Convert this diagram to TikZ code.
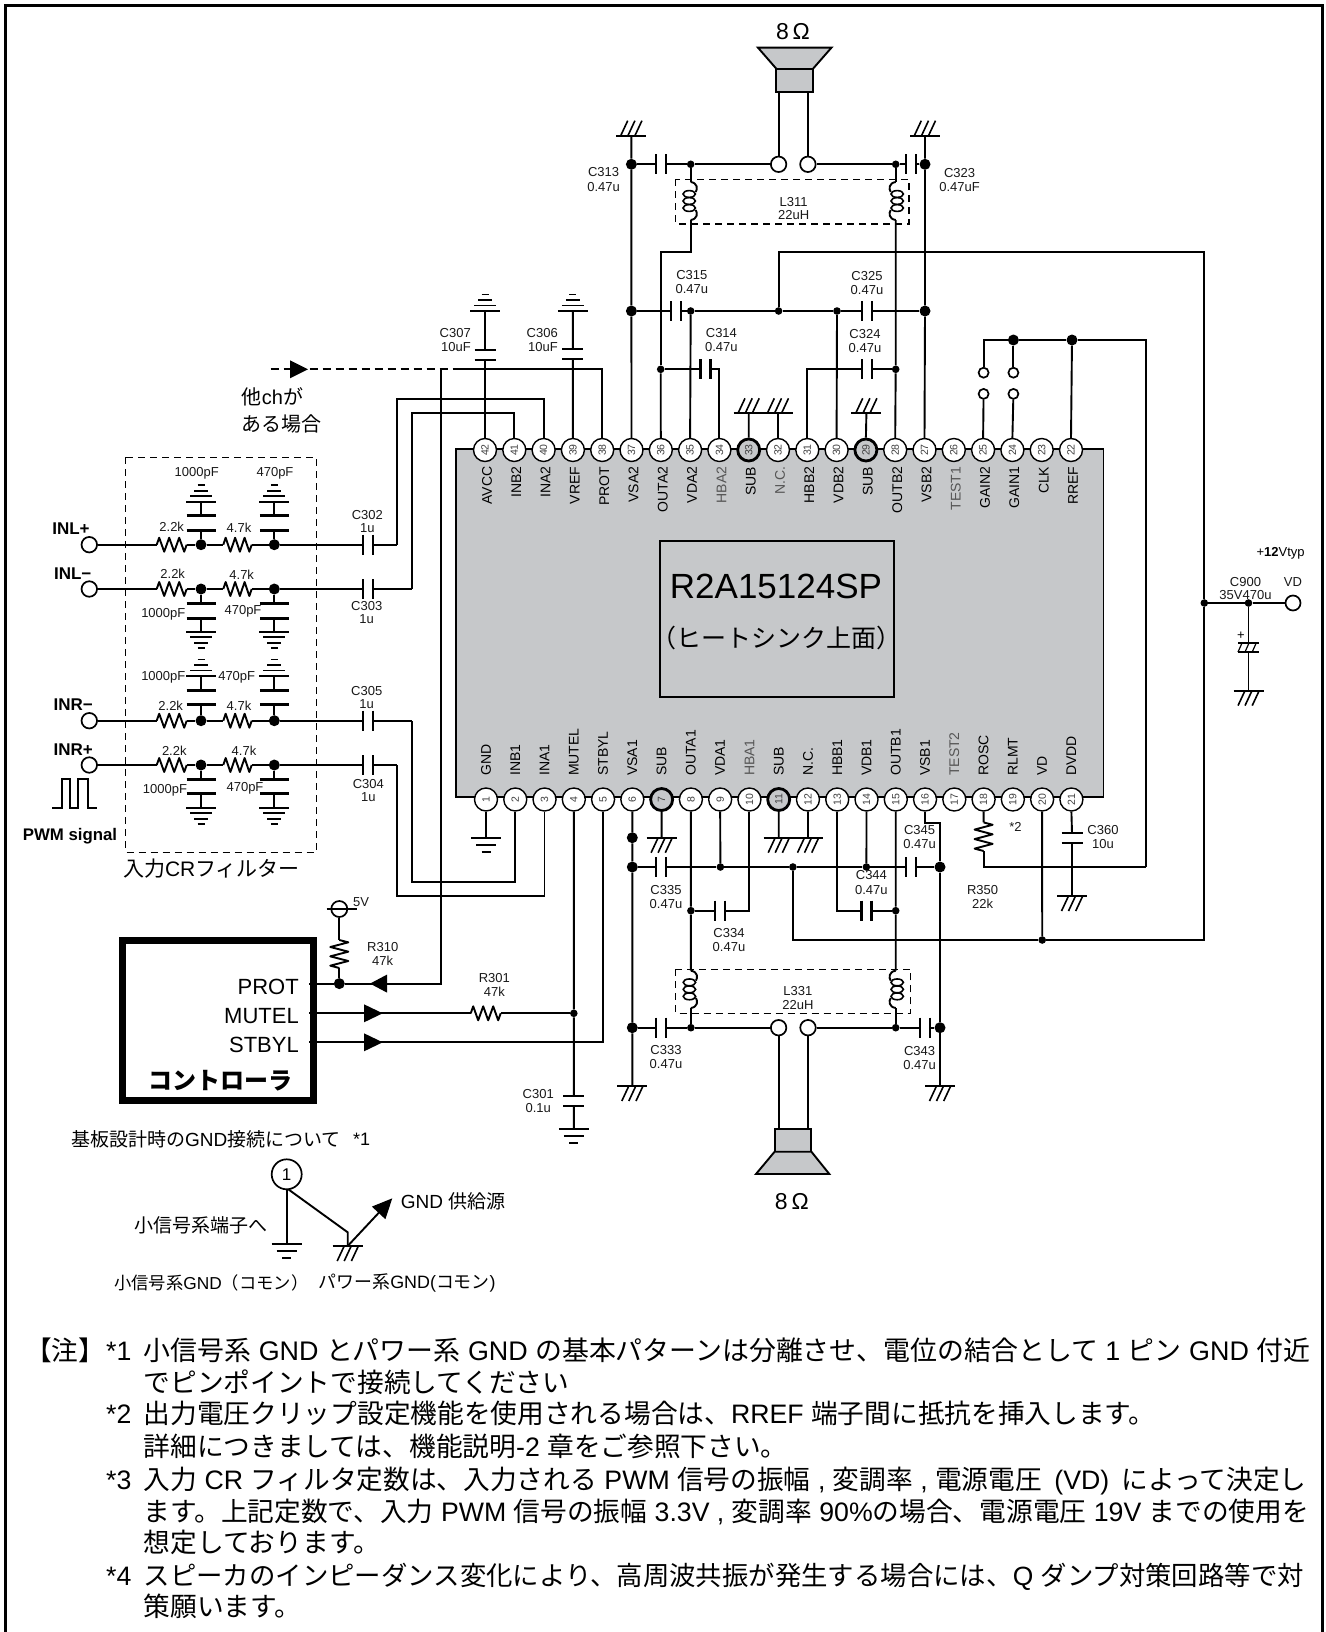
\documentclass[tikz,border=0pt]{standalone}
\usepackage{fontspec}
\usetikzlibrary{arrows.meta}
\setmainfont{Liberation Sans}
\newfontfamily\jp{Noto Sans CJK JP}
\newcommand\J[1]{{\jp #1}}
\newcommand\fs[1]{\fontsize{#1}{#1}\selectfont}
\definecolor{pkg}{HTML}{C6C8CA}
\definecolor{dimtxt}{HTML}{555555}
\newcount\lblc
\tikzset{
 wire/.style={line width=1.9pt,line join=miter},
 thinw/.style={line width=1.6pt},
 plate/.style={line width=2.2pt},
 platef/.style={line width=3pt},
 dashbox/.style={line width=1.5pt,dash pattern=on 7pt off 5pt},
 pin/.style={circle,draw,fill=white,line width=1.4pt,minimum size=23pt,inner sep=0pt,text=black!75,font=\fs{10.5}},
 pinS/.style={pin,fill=pkg,line width=2.8pt,minimum size=22pt},
 term/.style={circle,draw,fill=white,line width=1.7pt,minimum size=15.5pt,inner sep=0pt},
 gapterm/.style={circle,draw,fill=white,line width=1.7pt,minimum size=10pt,inner sep=0pt},
 dotL/.style={circle,fill=black,minimum size=11pt,inner sep=0pt},
 dotS/.style={circle,fill=black,minimum size=7.6pt,inner sep=0pt},
 lbl/.style={inner sep=0pt,align=center,font=\fs{13},text=black!90},
 note/.style={inner sep=0pt,anchor=base west,font=\fs{26.7}},
 ctl/.style={inner sep=0pt,anchor=east,font=\fs{22}},
}
\newcommand\Lb[3]{\global\advance\lblc by 1 \node[lbl] (l\the\lblc) at (#1,#2) {#3};}
\newcommand\Tx[4][]{\global\advance\lblc by 1 \node[inner sep=0pt,#1] (l\the\lblc) at (#2,#3) {#4};}
\newcommand\Nt[3]{\global\advance\lblc by 1 \node[note] (l\the\lblc) at (#1,#2) {#3};}
\newcommand\Dl[3]{\node[dotL] (#1) at (#2,#3) {};}
\newcommand\Ds[3]{\node[dotS] (#1) at (#2,#3) {};}
\newcommand\capH[3]{\coordinate (#1a) at ({#2-5},#3);\coordinate (#1b) at ({#2+5},#3);
 \draw[plate] ({#2-5},{#3-10})--({#2-5},{#3+10});\draw[plate] ({#2+5},{#3-10})--({#2+5},{#3+10});}
\newcommand\capV[3]{\coordinate (#1a) at (#2,{#3-5});\coordinate (#1b) at (#2,{#3+5});
 \draw[plate] ({#2-10.5},{#3-5})--({#2+10.5},{#3-5});\draw[plate] ({#2-10.5},{#3+5})--({#2+10.5},{#3+5});}
\newcommand\capF[3]{\coordinate (#1a) at (#2,{#3-7.3});\coordinate (#1b) at (#2,{#3+7.3});
 \draw[platef] ({#2-14.5},{#3-7.3})--({#2+14.5},{#3-7.3});\draw[platef] ({#2-14.5},{#3+7.3})--({#2+14.5},{#3+7.3});}
\newcommand\sgnd[4]{\coordinate (#1) at (#2,#3);
 \draw[wire] ({#2-15},#3)--({#2+15},#3);
 \draw[wire] ({#2-10},{#3+7*#4})--({#2+10},{#3+7*#4});
 \draw[wire] ({#2-4.5},{#3+14*#4})--({#2+4.5},{#3+14*#4});}
\newcommand\sgndf[4]{\coordinate (#1) at (#2,#3);
 \draw[thinw] ({#2-15},#3)--({#2+15},#3);
 \draw[thinw] ({#2-11},{#3+5.5*#4})--({#2+11},{#3+5.5*#4});
 \draw[thinw] ({#2-7},{#3+11*#4})--({#2+7},{#3+11*#4});
 \draw[thinw] ({#2-3.5},{#3+16.5*#4})--({#2+3.5},{#3+16.5*#4});}
\newcommand\pgndD[3]{\coordinate (#1) at (#2,#3);
 \draw[wire] ({#2-15},#3)--({#2+15},#3);
 \foreach \o in {-3.5,3.5,10.7}{\draw[thinw] ({#2+\o},#3)--({#2+\o-7},{#3+15});}}
\newcommand\pgndU[3]{\coordinate (#1) at (#2,#3);
 \draw[wire] ({#2-15},#3)--({#2+15},#3);
 \foreach \o in {-10.7,-3.5,3.5}{\draw[thinw] ({#2+\o},#3)--({#2+\o+7},{#3-15});}}
\newcommand\resH[4]{\coordinate (#1a) at (#2,#4);\coordinate (#1b) at (#3,#4);
 \draw[wire,line join=round] (#2,#4)--({#2+(#3-#2)/12},{#4-7})--({#2+(#3-#2)*3/12},{#4+7})--({#2+(#3-#2)*5/12},{#4-7})--({#2+(#3-#2)*7/12},{#4+7})--({#2+(#3-#2)*9/12},{#4-7})--({#2+(#3-#2)*11/12},{#4+7})--(#3,#4);}
\newcommand\resV[4]{\coordinate (#1a) at (#2,#3);\coordinate (#1b) at (#2,#4);
 \draw[wire,line join=round] (#2,#3)--({#2+9},{#3+(#4-#3)/12})--({#2-9},{#3+(#4-#3)*3/12})--({#2+9},{#3+(#4-#3)*5/12})--({#2-9},{#3+(#4-#3)*7/12})--({#2+9},{#3+(#4-#3)*9/12})--({#2-9},{#3+(#4-#3)*11/12})--(#2,#4);}
\newcommand\coil[5]{\coordinate (#1a) at (#2,#3);\coordinate (#1b) at (#2,#4);
 \pgfmathsetmacro\ym{(#3+#4)/2}
 \foreach \d in {-7,0,7}{\draw[thinw] ({#2-1.5*#5},{\ym+\d}) ellipse [x radius=6.2,y radius=3.4];}
 \draw[wire] (#2,#3) .. controls ({#2+7*#5},{#3+1}) and ({#2+7*#5},{#3+7}) .. ({#2+5*#5},{#3+10});
 \draw[wire] (#2,#4) .. controls ({#2+7*#5},{#4-1}) and ({#2+7*#5},{#4-7}) .. ({#2+5*#5},{#4-10});}
\newcommand\tri[4]{\fill (#1,#3)--(#2,#4)--(#1,{2*#4-#3})--cycle;}
\newcommand\topx[1]{\pgfmathsetmacro\xx{485+(42-#1)*29.3}}
\newcommand\botx[1]{\pgfmathsetmacro\xx{486+(#1-1)*29.27}}
\begin{document}
\begin{tikzpicture}[x=1pt,y=-1pt]
\useasboundingbox (0,0) rectangle (1325,1632);
\fill[white] (0,0) rectangle (1325,1632);
\draw[line width=3pt] (5.5,1632)--(5.5,6)--(1322,6)--(1322,1632);
% package
\draw[fill=pkg,line width=1.4pt] (456,449) rectangle (1103.5,797);
\draw[line width=1.4pt] (660,541) rectangle (894,697);
\Tx{776}{586}{\fs{35}R2A15124SP}
\Tx{776}{638}{\fs{25}\J{（ヒートシンク上面）}}
% pins
\foreach \n in {22,...,28,30,31,32,34,35,...,42}{\topx{\n}\node[pin] (p\n) at (\xx,450) {\rotatebox{90}{\n}};}
\foreach \n in {29,33}{\topx{\n}\node[pinS] (p\n) at (\xx,450) {\rotatebox{90}{\n}};}
\foreach \n in {1,...,6,8,9,10,12,13,...,21}{\botx{\n}\node[pin] (p\n) at (\xx,799.5) {\rotatebox{90}{\n}};}
\foreach \n in {7,11}{\botx{\n}\node[pinS] (p\n) at (\xx,799.5) {\rotatebox{90}{\n}};}
\foreach \n/\t in {42/AVCC,41/INB2,40/INA2,39/VREF,38/PROT,37/VSA2,36/OUTA2,35/VDA2,33/SUB,31/HBB2,30/VDB2,29/SUB,28/OUTB2,27/VSB2,25/GAIN2,24/GAIN1,23/CLK,22/RREF}{
 \topx{\n}\node[inner sep=0pt,rotate=90,anchor=east,font=\fs{14}] (t\n) at (\xx+2,466.5) {\t};}
\foreach \n/\t in {34/HBA2,32/N.C.,26/TEST1}{
 \topx{\n}\node[inner sep=0pt,rotate=90,anchor=east,font=\fs{14},text=dimtxt] (t\n) at (\xx+2,466.5) {\t};}
\foreach \n/\t in {1/GND,2/INB1,3/INA1,4/MUTEL,5/STBYL,6/VSA1,7/SUB,8/OUTA1,9/VDA1,11/SUB,12/N.C.,13/HBB1,14/VDB1,15/OUTB1,16/VSB1,18/ROSC,19/RLMT,20/VD,21/DVDD}{
 \botx{\n}\node[inner sep=0pt,rotate=90,anchor=west,font=\fs{14}] (t\n) at (\xx,776) {\t};}
\foreach \n/\t in {10/HBA1,17/TEST2}{
 \botx{\n}\node[inner sep=0pt,rotate=90,anchor=west,font=\fs{14},text=dimtxt] (t\n) at (\xx,776) {\t};}

% ---- top speaker
\draw[fill=pkg,line width=1.9pt] (758,47.7)--(831.4,47.7)--(812.5,69.3)--(776.8,69.3)--cycle;
\node[draw,fill=pkg,line width=1.9pt,minimum width=37pt,minimum height=22.4pt,inner sep=0pt] (spkT) at (794.4,80.5) {};
\Tx{793}{32}{\fs{23}8\,Ω}
\node[term] (tL) at (778.6,164.3) {};
\node[term] (tR) at (807.9,164.3) {};
\draw[wire] (tL.north)--(tL.north|-spkT.south);
\draw[wire] (tR.north)--(tR.north|-spkT.south);
\pgndU{gT37}{631.4}{135.7}
\pgndU{gT27}{925}{135.7}
\Dl{j1}{631.4}{164.3}\Dl{j2}{925}{164.3}
\Ds{j3}{690.7}{164.3}\Ds{j4}{895.7}{164.3}
\capH{c313}{661}{164.3}\capH{c323}{910.7}{164.3}
\draw[wire] (j1)--(c313a) (c313b)--(j3)--(tL);
\draw[wire] (tR)--(j4)--(c323a) (c323b)--(j2);
\coil{l1}{690.7}{182}{220}{1}\coil{l2}{895.7}{182}{220}{-1}
\draw[wire] (j3)--(l1a);\draw[wire] (j4)--(l2a);
\draw[dashbox] (675.7,179.3) rectangle (909,224);
\Lb{793.6}{202}{L311}\Lb{793.6}{215.5}{22uH}
\Lb{603.6}{172.3}{C313}\Lb{603.6}{187}{0.47u}
\Lb{959.6}{172.8}{C323}\Lb{959.6}{187}{0.47uF}
% row y=311
\Dl{j5}{631.4}{311}\Dl{j6}{925}{311}
\Ds{j7}{690.7}{311}\Ds{j8}{778.6}{311}\Ds{j9}{837}{311}
\capH{c315}{675.7}{311}\capH{c325}{867}{311}
\draw[wire] (j5)--(c315a) (c315b)--(j7)--(j8)--(j9)--(c325a) (c325b)--(j6);
\draw[wire] (gT37)--(j1)--(j5)--(p37.north);
\draw[wire] (gT27)--(j2)--(j6)--(p27.north);
\draw[wire] (j7)--(p35.north);
\draw[wire] (j9)--(p30.north);
% OUTA2 / C314
\Ds{j10}{660.7}{369.3}\Ds{j11}{895.7}{369.3}
\draw[wire] (l1b)--(690.7,252.3)-|(j10);\draw[wire] (j10)--(p36.north);
\draw[wire] (l2b)--(j11)--(p28.north);
\capH{c314}{705.4}{369.3}\capH{c324}{867}{369.3}
\draw[wire] (j10)--(c314a);\draw[wire] (c314b)-|(p34.north);
\draw[wire] (p31.north)|-(c324a);\draw[wire] (c324b)--(j11);
\Lb{691.8}{275.3}{C315}\Lb{691.8}{289.5}{0.47u}
\Lb{867}{276}{C325}\Lb{867}{290}{0.47u}
\Lb{721.4}{333.3}{C314}\Lb{721.4}{347.5}{0.47u}
\Lb{865}{334}{C324}\Lb{865}{348}{0.47u}
% SUB grounds top
\pgndU{g33}{748.7}{413.3}\pgndU{g32}{778}{413.3}\pgndU{g29}{866.4}{413.3}
\draw[wire] (g33)--(p33.north);\draw[wire] (g32)--(p32.north);\draw[wire] (g29)--(p29.north);
% VD rail
\coordinate (rA) at (1204.3,252.3);\coordinate (rB) at (1204.3,940);\coordinate (rC) at (792.9,940);
\Ds{j12}{1204.3}{603}\Ds{j13}{1042.2}{940}\Ds{j14}{792.9}{867}
\draw[wire] (j8)|-(rA)--(j12)--(rB)--(j13)--(rC)--(j14);
\draw[wire] (j13)--(p20.south);
% C900
\Ds{j15}{1248.5}{603}
\node[term,minimum size=15pt] (tVD) at (1293,603) {};
\draw[wire] (j12)--(j15)--(tVD);
\coordinate (c900a) at (1248.5,643);\coordinate (c900b) at (1248.5,652);
\draw[plate] (1238,643)--(1259,643);\draw[plate] (1238,652)--(1259,652);
\foreach \o in {-3.5,3.5,10.7}{\draw[line width=1.2pt] ({1248.5+\o-3},643)--({1248.5+\o-7},652);}
\pgndD{g900}{1248.5}{690.6}
\draw[wire] (j15)--(c900a);\draw[wire] (c900b)--(g900);
\Tx[font=\fs{13}]{1241}{636}{+}
\Tx{1280.6}{553}{\fs{13}+\textbf{12}Vtyp}
\Lb{1245.5}{581.6}{C900}\Lb{1245.5}{595.5}{35V470u}\Lb{1293}{581.6}{VD}
% C307,C306 and grounds
\sgndf{g307}{485}{311}{-1}\sgndf{g306}{572.9}{311}{-1}
\capV{c307}{485}{355}\capV{c306}{572.9}{354}
\draw[wire] (g307)--(c307a) (c307b)--(p42.north);
\draw[wire] (g306)--(c306a) (c306b)--(p39.north);
\node[lbl,anchor=east,align=right] (l307) at (471,340) {C307\\[1.5pt]10uF};
\node[lbl,anchor=east,align=right] (l306) at (558,340) {C306\\[1.5pt]10uF};
% PROT net
\coordinate (a0) at (270.7,369.3);\coordinate (a1) at (441,369.3);\coordinate (a2) at (456.7,369.3);
\draw[wire,dash pattern=on 8pt off 5pt] (a0)--(a2);
\draw[wire] (a2)-|(p38.north);
\tri{290}{308}{360.3}{369.3}
\Tx[align=left,anchor=west,font=\fs{20}]{241.7}{410.5}{\J{他}ch\J{が}\\[7pt]\J{ある場合}}
\draw[wire] (p41.north)|-(412.3,413.3)--(412.3,589);
\draw[wire] (p40.north)|-(397.3,398.7)--(397.3,544.7);
\draw[wire] (p2.south)|-(412.3,881.7)--(412.3,720.7);
\draw[wire] (p3.south)|-(397.3,896)--(397.3,765);
% input filter
\draw[dashbox] (125.7,457.3) rectangle (316.3,852.3);
\Tx[font=\fs{21}]{211.5}{869}{\J{入力}CR\J{フィルター}}
\foreach \r/\yy/\nm/\lx/\wend in {A/544.7/INL+/71/397.3,B/589/INL−/72.7/412.3,C/720.7/INR−/73.3/412.3,D/765/INR+/73.3/397.3}{
 \node[term] (in\r) at (89.3,\yy) {};
 \node[inner sep=0pt,font=\bfseries\fs{17}] (nm\r) at (\lx,{\yy-15.7}) {\nm};
 \resH{ra\r}{156.7}{186.7}{\yy}\resH{rb\r}{223.3}{251.7}{\yy}
 \Dl{da\r}{201}{\yy}\Dl{db\r}{274.3}{\yy}
 \capH{cs\r}{368.3}{\yy}
 \draw[wire] (in\r)--(ra\r a) (ra\r b)--(da\r)--(rb\r a) (rb\r b)--(db\r)--(cs\r a) (cs\r b)--(\wend,\yy);
}
% filter caps: up on rows A,C; down on rows B,D
\capF{f1}{201}{523}\capF{f2}{274.3}{523}\sgndf{gf1}{201}{501.7}{-1}\sgndf{gf2}{274.3}{501.7}{-1}
\draw[wire] (daA)--(f1b) (f1a)--(gf1);\draw[wire] (dbA)--(f2b) (f2a)--(gf2);
\capF{f3}{201}{610.8}\capF{f4}{274.3}{610.8}\sgndf{gf3}{201}{631.7}{1}\sgndf{gf4}{274.3}{631.7}{1}
\draw[wire] (daB)--(f3a) (f3b)--(gf3);\draw[wire] (dbB)--(f4a) (f4b)--(gf4);
\capF{f5}{201}{697.5}\capF{f6}{274.3}{697.5}\sgndf{gf5}{201}{676}{-1}\sgndf{gf6}{274.3}{676}{-1}
\draw[wire] (daC)--(f5b) (f5a)--(gf5);\draw[wire] (dbC)--(f6b) (f6a)--(gf6);
\capF{f7}{201}{786.3}\capF{f8}{274.3}{786.3}\sgndf{gf7}{201}{807.7}{1}\sgndf{gf8}{274.3}{807.7}{1}
\draw[wire] (daD)--(f7a) (f7b)--(gf7);\draw[wire] (dbD)--(f8a) (f8b)--(gf8);
\Lb{196.7}{473}{1000pF}\Lb{275}{473}{470pF}
\Lb{171.7}{526.7}{2.2k}\Lb{239}{527.3}{4.7k}
\Lb{172.7}{573.3}{2.2k}\Lb{241.7}{575}{4.7k}
\Lb{163.3}{614}{1000pF}\Lb{243}{611.7}{470pF}
\Lb{163.3}{677.7}{1000pF}\Lb{236.7}{677.7}{470pF}
\Lb{170.7}{705.7}{2.2k}\Lb{239}{706}{4.7k}
\Lb{174.3}{750.7}{2.2k}\Lb{244}{750.7}{4.7k}
\Lb{165}{790}{1000pF}\Lb{245}{788.3}{470pF}
\Lb{367.3}{515}{C302}\Lb{367.3}{527.7}{1u}
\Lb{366.7}{606}{C303}\Lb{366.7}{619.3}{1u}
\Lb{366.7}{691}{C305}\Lb{366.7}{703.7}{1u}
\Lb{368.3}{784}{C304}\Lb{368.3}{796.7}{1u}
\draw[wire] (52.3,808.3)--(61.7,808.3)--(61.7,779)--(70,779)--(70,808.3)--(78.3,808.3)--(78.3,779)--(87.7,779)--(87.7,808.3)--(96.7,808.3);
\Tx[font=\bfseries\fs{16.8}]{70}{835.7}{PWM signal}
% bottom pins
\sgnd{g1}{486}{837.7}{1}\draw[wire] (p1.south)--(g1);
\pgndD{g7}{661.6}{837.7}\pgndD{g11}{778.7}{837.7}\pgndD{g12}{808}{837.7}
\draw[wire] (p7.south)--(g7);\draw[wire] (p11.south)--(g11);\draw[wire] (p12.south)--(g12);
% MUTEL, C301
\Ds{j20}{573.8}{1013.3}
\capV{c301}{573.8}{1101}\sgnd{g301}{573.8}{1129.3}{1}
\draw[wire] (p4.south)--(j20)--(c301a) (c301b)--(g301);
\Lb{538.2}{1094}{C301}\Lb{538.2}{1108}{0.1u}
% bottom power rails
\pgndD{g6}{632.3}{1086}\pgndD{g16}{940}{1086}
\Dl{b1}{632.3}{837.7}\Dl{b2}{632.3}{867}\Dl{b3}{632.3}{1027.7}
\Dl{b4}{940}{867}\Dl{b5}{940}{1027.7}
\draw[wire] (p6.south)--(b1)--(b2)--(b3)--(g6);
\coordinate (q16) at (940,822.7);
\draw[wire] (p16.south)|-(q16)--(b4)--(b5)--(g16);
\Ds{b6}{690.9}{910.7}\Ds{b7}{690.9}{1027.7}\Ds{b8}{720.4}{867}\Ds{b9}{866.4}{867}\Ds{b10}{895.7}{910.7}\Ds{b11}{895.7}{1027.7}
\capH{c335}{661}{867}\capH{c345}{910.7}{867}\capH{c333}{661}{1027.7}\capH{c343}{925}{1027.7}
\capH{c334}{719.8}{910.7}\capH{c344}{866.4}{910.7}
\draw[wire] (b2)--(c335a) (c335b)--(b8)--(j14)--(b9)--(c345a) (c345b)--(b4);
\draw[wire] (b3)--(c333a) (c333b)--(b7);
\draw[wire] (b11)--(c343a) (c343b)--(b5);
\draw[wire] (p9.south)--(b8);\draw[wire] (p14.south)--(b9);
\draw[wire] (b6)--(c334a);\draw[wire] (c334b)-|(p10.south);
\draw[wire] (p13.south)|-(c344a);\draw[wire] (c344b)--(b10);
\coil{l3}{690.9}{970.7}{1008}{1}\coil{l4}{895.7}{970.7}{1008}{-1}
\draw[wire] (p8.south)--(b6)--(l3a);\draw[wire] (l3b)--(b7);
\draw[wire] (p15.south)--(b10)--(l4a);\draw[wire] (l4b)--(b11);
\draw[dashbox] (675.7,969.3) rectangle (910.7,1013.3);
\Lb{797.9}{991}{L331}\Lb{797.9}{1005.3}{22uH}
\node[term] (bL) at (778.6,1027.7) {};\node[term] (bR) at (808,1027.7) {};
\draw[wire] (b7)--(bL);\draw[wire] (bR)--(b11);
\node[draw,fill=pkg,line width=1.9pt,minimum width=36.8pt,minimum height=22.4pt,inner sep=0pt] (spkB) at (793,1140.5) {};
\draw[fill=pkg,line width=1.9pt] (774.6,1151.7)--(811.4,1151.7)--(829.3,1174)--(756,1174)--cycle;
\draw[wire] (bL.south)--(bL.south|-spkB.north);\draw[wire] (bR.south)--(bR.south|-spkB.north);
\Tx{791.8}{1201.7}{\fs{23}8\,Ω}
\Lb{666}{890}{C335}\Lb{666}{904}{0.47u}
\Lb{729}{933.3}{C334}\Lb{729}{947.5}{0.47u}
\Lb{871.4}{875}{C344}\Lb{871.4}{890}{0.47u}
\Lb{919.6}{830}{C345}\Lb{919.6}{844}{0.47u}
\Lb{666}{1050}{C333}\Lb{666}{1064}{0.47u}
\Lb{919.6}{1051}{C343}\Lb{919.6}{1065}{0.47u}
% gain and RREF
\node[gapterm] (o1) at (983.6,372.7) {};\node[gapterm] (o2) at (983.6,393.9) {};
\node[gapterm] (o3) at (1013.4,372.7) {};\node[gapterm] (o4) at (1013.4,393.9) {};
\Dl{k1}{1013.4}{340}\Dl{k2}{1072}{340}
\coordinate (k0) at (983.6,340);\coordinate (k3) at (1145.8,340);\coordinate (k4) at (1145.8,867.3);
\draw[wire] (p25.north)--(o2);\draw[wire] (p24.north)--(o4);
\draw[wire] (o1)--(k0)--(k1)--(k2)--(k3)--(k4);
\draw[wire] (o3)--(k1);\draw[wire] (k2)--(p22.north);
\resV{r350}{983.6}{822.4}{851}
\draw[wire] (p18.south)--(r350a);\draw[wire] (r350b)|-(k4);
\capV{c360}{1072}{837.8}\pgndD{g21}{1072}{896}
\draw[wire] (p21.south)--(c360a) (c360b)--(g21);
\Lb{1103}{830}{C360}\Lb{1103}{844.5}{10u}
\Lb{982.6}{890}{R350}\Lb{982.6}{904}{22k}
\Lb{1015.4}{827.3}{*2}
% controller
\draw[line width=7pt] (122.8,940.2) rectangle (313.2,1100.8);
\node[ctl] (cP) at (299,986.7) {PROT};\node[ctl] (cM) at (299,1016) {MUTEL};\node[ctl] (cS) at (299,1045) {STBYL};
\Tx[font=\bfseries\fs{24}]{220}{1081}{\J{コントローラ}}
\coordinate (e1) at (309,983.6);\coordinate (e2) at (309,1013.3);\coordinate (e3) at (309,1042.3);
\Dl{m1}{339.3}{983.6}
\coordinate (m2) at (441,983.6);
\draw[wire] (e1)--(m1)--(m2)--(a1);
\tri{387}{370}{974.6}{983.6}
\resV{r310}{339.3}{940}{968}
\draw[wire] (m1)--(r310b);
\node[circle,draw,line width=1.7pt,minimum size=16pt,inner sep=0pt] (v5) at (339.3,909) {};
\draw[wire] (326.7,909)--(356.7,909);
\draw[wire] (r310a)--(v5);
\Lb{361}{902}{5V}
\Lb{382.7}{947.3}{R310}\Lb{382.7}{961}{47k}
\resH{r301}{470.7}{500.7}{1013.3}
\draw[wire] (e2)--(r301a) (r301b)--(j20);
\tri{364}{382.7}{1004.3}{1013.3}
\draw[wire] (e3)--(p5.south|-e3)--(p5.south);
\tri{364}{382.7}{1033.3}{1042.3}
\Lb{494.3}{978.3}{R301}\Lb{494.3}{992}{47k}
% GND note
\node[inner sep=0pt,anchor=west,font=\fs{19}] (gn) at (71,1139) {\J{基板設計時の}GND\J{接続について}};
\Tx[font=\fs{18}]{361.7}{1139}{*1}
\node[circle,draw,line width=1.7pt,minimum size=30pt,inner sep=0pt,font=\fs{17}] (c1) at (286.7,1174.3) {1};
\sgnd{gs}{286.7}{1244}{1}\draw[wire] (c1)--(gs);
\pgndD{gp}{347.7}{1246}
\coordinate (gq) at (347.7,1232.3);
\draw[wire] (288.3,1189.3)--(gq)--(gp);
\coordinate (gt) at (392.3,1198.3);
\draw[wire,-{Triangle[length=20pt,width=18pt]}] (gp)--(gt);
\Tx[font=\fs{19}]{201}{1225}{\J{小信号系端子へ}}
\node[inner sep=0pt,anchor=west,font=\fs{19}] (gs1) at (400.7,1201.7) {GND \J{供給源}};
\node[inner sep=0pt,anchor=west,font=\fs{17.3}] (gs2) at (114,1282.7) {\J{小信号系}GND\J{（コモン）}};
\node[inner sep=0pt,anchor=west,font=\fs{17.9}] (gs3) at (318.5,1282.7) {\J{パワー系}GND(\J{コモン})};
% notes
\Nt{25}{1360.5}{\J{【注】}}
\Nt{106}{1360.5}{*1}\Nt{143.5}{1360.5}{\fs{26.9}\J{小信号系} GND \J{とパワー系} GND \J{の基本パターンは分離させ、電位の結合として} 1 \J{ピン} GND \J{付近}}
\Nt{143.5}{1392}{\J{でピンポイントで接続してください}}
\Nt{106}{1423.5}{*2}\Nt{143.5}{1423.5}{\J{出力電圧クリップ設定機能を使用される場合は、}RREF \J{端子間に抵抗を挿入します。}}
\Nt{143.5}{1456.5}{\J{詳細につきましては、機能説明}-2 \J{章をご参照下さい。}}
\Nt{106}{1489.5}{*3}\Nt{143.5}{1489.5}{\J{入力} CR \J{フィルタ定数は、入力される} PWM \J{信号の振幅} , \J{変調率} , \J{電源電圧}\hspace{5pt} (VD)\hspace{5pt} \J{によって決定し}}
\Nt{143.5}{1521.5}{\J{ます。上記定数で、入力} PWM \J{信号の振幅} 3.3V , \J{変調率} 90\%\J{の場合、電源電圧} 19V \J{までの使用を}}
\Nt{143.5}{1552.5}{\J{想定しております。}}
\Nt{106}{1585.5}{*4}\Nt{143.5}{1585.5}{\fs{26.4}\J{スピーカのインピーダンス変化により、高周波共振が発生する場合には、}Q \J{ダンプ対策回路等で対}}
\Nt{143.5}{1616.5}{\J{策願います。}}
\end{tikzpicture}
\end{document}
